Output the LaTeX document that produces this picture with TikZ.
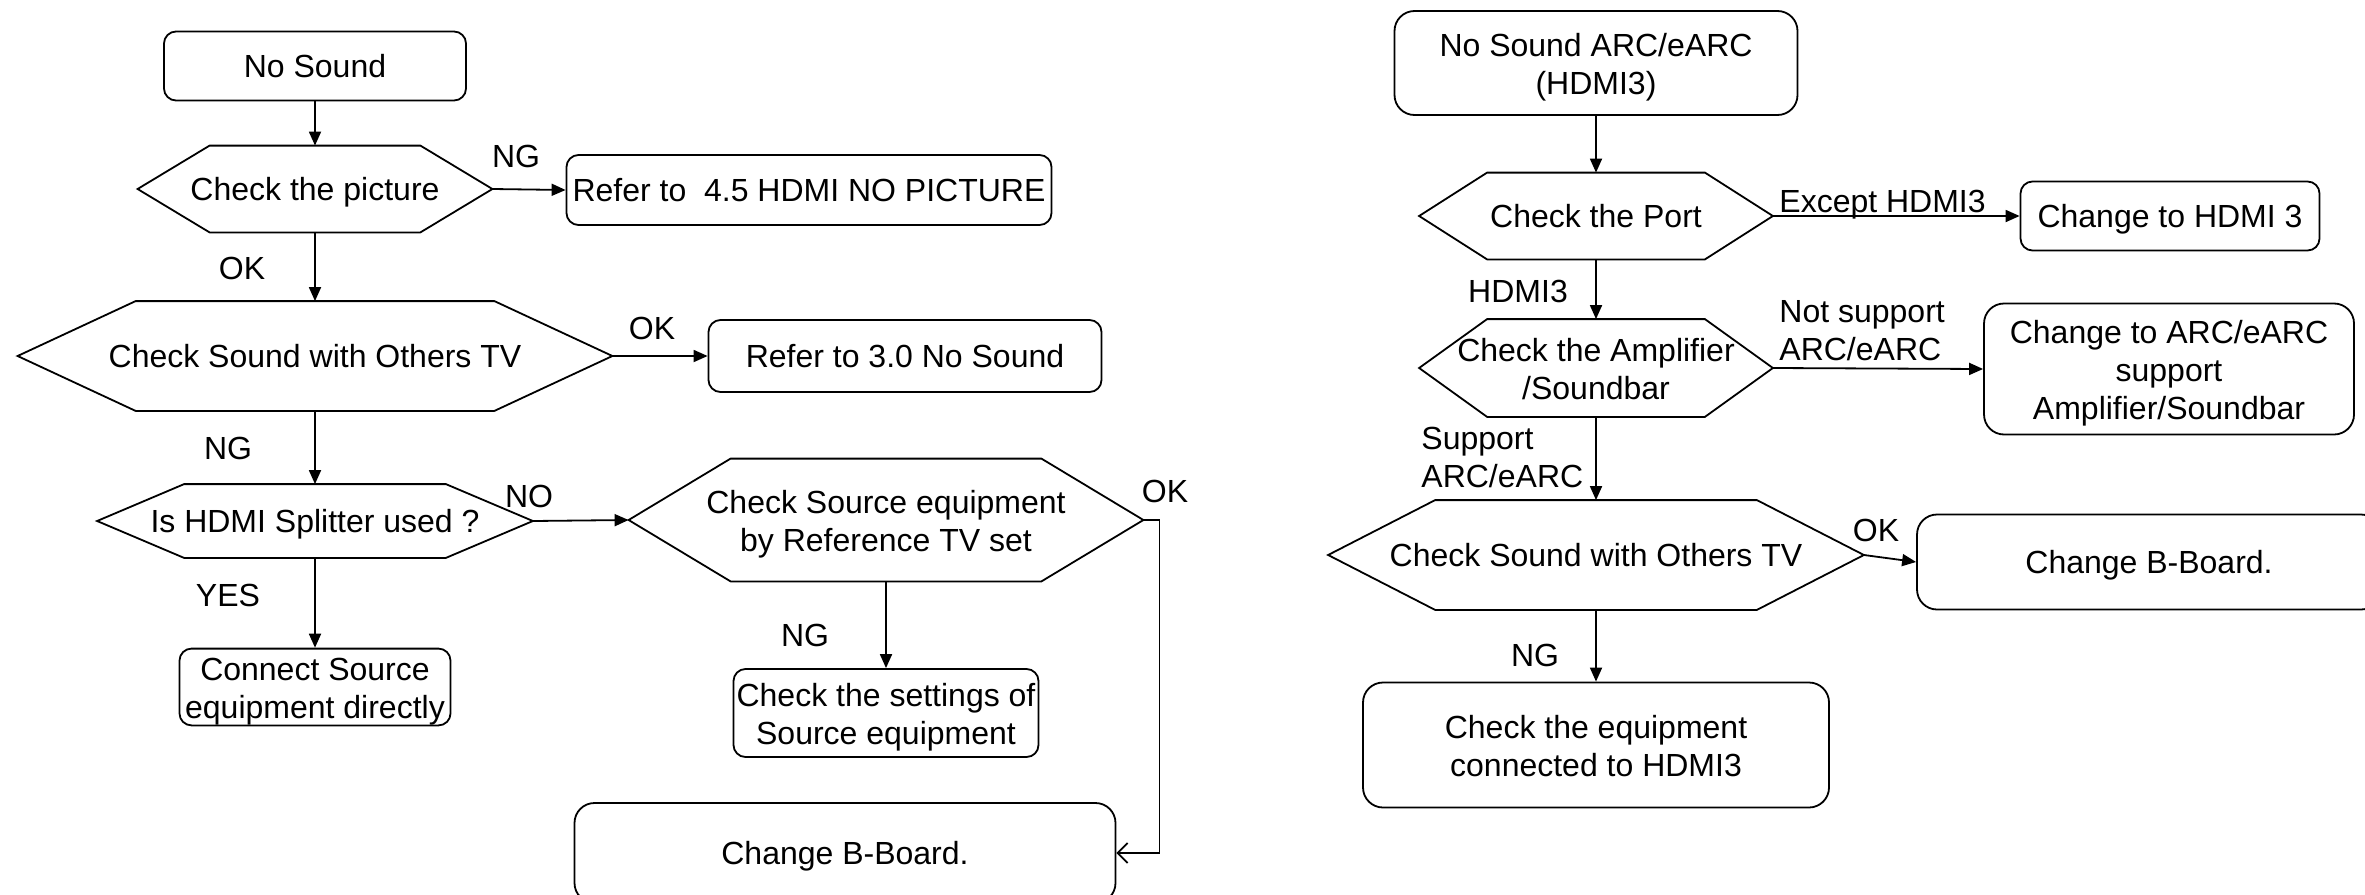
\documentclass[tikz,border=0pt]{standalone}
\usepackage{fontspec}
\setmainfont{Liberation Sans}
\usetikzlibrary{arrows.meta,calc}

\newcommand{\tstrut}{\rule{0pt}{16pt}}
% hexagon decision: name, centre, width, height, inset, text
\newcommand{\hexnode}[6]{%
  \node[hexbase,minimum width=#3,minimum height=#4] (#1) at #2 {#6};
  \draw[hexline] (#1.west) -- ($(#1.north west)+(#5,0pt)$) -- ($(#1.north east)-(#5,0pt)$)
    -- (#1.east) -- ($(#1.south east)-(#5,0pt)$) -- ($(#1.south west)+(#5,0pt)$) -- cycle;}

\begin{document}
\begin{tikzpicture}[
  x=0.5pt,y=-0.5pt,font=\fontsize{16}{19}\selectfont,
  txt/.style={inner sep=0pt,execute at begin node={\rule{0pt}{14.5pt}},
              execute at end node={\rule[-3.4pt]{0pt}{3.4pt}}},
  box/.style={txt,draw,line width=0.9pt,rounded corners=6pt,align=center},
  bigbox/.style={box,rounded corners=10pt},
  hexbase/.style={txt,align=center},
  hexline/.style={line width=0.9pt,line join=miter},
  lbl/.style={txt,align=left},
  ar/.style={-{Triangle[length=7pt,width=6pt]},line width=0.9pt},
  arb/.style={-{Straight Barb[length=5pt,width=10pt]},line width=0.9pt}
]
\useasboundingbox (0,0) rectangle (2365,894);

% left chart
\node[box,minimum width=151pt,minimum height=34.5pt] (nosound) at (315,66) {No Sound};
\hexnode{chkpic}{(315,189)}{177pt}{43pt}{36pt}{Check the picture}
\node[box,minimum width=242.5pt,minimum height=35pt] (refpic) at (809,190) {Refer to\ \ 4.5 HDMI NO PICTURE};
\hexnode{chksnd}{(315,356)}{297pt}{54.5pt}{59pt}{Check Sound with Others TV}
\node[box,minimum width=196.5pt,minimum height=36pt] (ref30) at (905,356) {Refer to 3.0 No Sound};
\hexnode{splitter}{(315,521)}{217.5pt}{36.5pt}{43.5pt}{Is HDMI Splitter used ?}
\hexnode{srcref}{(886,520)}{257pt}{61pt}{51pt}{\tstrut Check Source equipment\\by Reference TV set}
\node[box,minimum width=135.5pt,minimum height=37.5pt] (connsrc) at (315,687) {\tstrut Connect Source\\equipment directly};
\node[box,minimum width=152.5pt,minimum height=44pt] (chkset) at (886,713) {\tstrut Check the settings of\\Source equipment};
\node[bigbox,minimum width=270.5pt,minimum height=50pt] (chgb) at (845,853) {Change B-Board.};

\draw[ar] (nosound) -- (chkpic);
\draw[ar] (chkpic.east) -- (refpic.west);
\draw[ar] (chkpic) -- (chksnd);
\draw[ar] (chksnd.east) -- (ref30.west);
\draw[ar] (chksnd) -- (splitter);
\draw[ar] (splitter.east) -- (srcref.west);
\draw[ar] (splitter) -- (connsrc);
\draw[ar] (srcref) -- (chkset);
\draw[arb] (srcref.east) -- ++(16,0) |- (chgb.east);

\node[lbl] (lng1) at (516,156) {NG};
\node[lbl] (lok1) at (242,268) {OK};
\node[lbl] (lok2) at (652,328) {OK};
\node[lbl] (lng2) at (228,448) {NG};
\node[lbl] (lno)  at (529,496) {NO};
\node[lbl] (lok3) at (1165,491) {OK};
\node[lbl] (lyes) at (228,595) {YES};
\node[lbl] (lng3) at (805,635) {NG};

% right chart
\node[bigbox,minimum width=201.5pt,minimum height=52pt] (arcstart) at (1596,63) {\tstrut No Sound ARC/eARC\\(HDMI3)};
\hexnode{chkport}{(1596,216)}{176.5pt}{43pt}{34pt}{Check the Port}
\node[box,minimum width=149.5pt,minimum height=34.5pt] (chghdmi) at (2170,216) {Change to HDMI 3};
\hexnode{chkamp}{(1596,368)}{176.5pt}{48.5pt}{34pt}{\tstrut Check the Amplifier\\/Soundbar}
\node[bigbox,minimum width=185pt,minimum height=65.5pt] (chgarc) at (2169,369) {\tstrut Change to ARC/eARC\\support\\Amplifier/Soundbar};
\hexnode{chksndb}{(1596,555)}{267.5pt}{54.5pt}{53.5pt}{Check Sound with Others TV}
\node[bigbox,minimum width=232pt,minimum height=47.5pt] (chgbb) at (2149,562) {Change B-Board.};
\node[bigbox,minimum width=233pt,minimum height=62.5pt] (chkequip) at (1596,745) {\tstrut Check the equipment\\connected to HDMI3};

\draw[ar] (arcstart) -- (chkport);
\draw[ar] (chkport.east) -- (chghdmi.west);
\draw[ar] (chkport) -- (chkamp);
\draw[ar] (chkamp.east) -- (chgarc.west);
\draw[ar] (chkamp) -- (chksndb);
\draw[ar] (chksndb.east) -- (chgbb.west);
\draw[ar] (chksndb) -- (chkequip);

\node[lbl,anchor=west] (lexc) at (1779,201) {Except HDMI3};
\node[lbl] (lhdmi) at (1518,291) {HDMI3};
\node[lbl,anchor=west] (lnots) at (1779,334) {Not support\\ARC/eARC};
\node[lbl,anchor=west] (lsup) at (1421,461) {Support\\ARC/eARC};
\node[lbl] (lok4) at (1876,530) {OK};
\node[lbl] (lng4) at (1535,655) {NG};
\end{tikzpicture}
\end{document}
